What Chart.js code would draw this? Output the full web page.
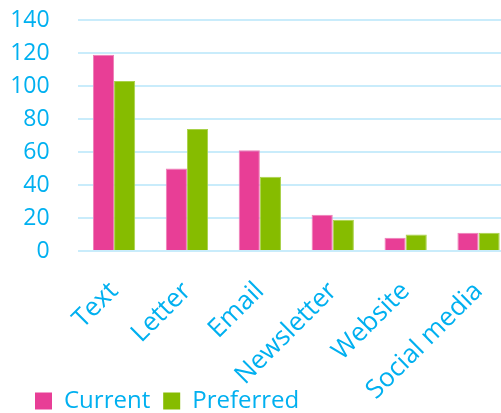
<!DOCTYPE html>
<html>
<head>
<meta charset="utf-8">
<script src="https://cdn.jsdelivr.net/npm/chart.js@4"></script>
<style>
  html, body { margin: 0; padding: 0; overflow: hidden; background: #fff; }
  #wrap { width: 515px; height: 413px; position: relative; }
</style>
</head>
<body>
<div id="wrap"><canvas id="mycanvas"></canvas></div>
<script>
var channels = ['Text', 'Letter', 'Email', 'Newsletter', 'Website', 'Social media'];
var current = [119, 50, 61, 22, 8, 11];
var preferred = [103, 74, 45, 19, 10, 11];
var yTicks = [0, 20, 40, 60, 80, 100, 120, 140];

var blue = '#00b0f0';
var fontName = "'Open Sans', sans-serif";

// let the slanted labels run down beside the legend, and push the legend right
var layoutFix = {
  id: 'layoutFix',
  afterLayout: function(chart) {
    chart.scales.x.bottom = chart.height;
    chart.legend.left = 22;
    chart.legend.top += 10;
  }
};

var chartdata = {
  labels: channels,
  datasets: [
    {
      label: 'Current',
      backgroundColor: '#e83e96',
      borderColor: '#ee7fb8',
      borderWidth: 1,
      data: current
    },
    {
      label: 'Preferred',
      backgroundColor: '#86bc00',
      borderColor: '#a9d24a',
      borderWidth: 1,
      data: preferred
    }
  ]
};

var ctx = document.getElementById('mycanvas');

var barGraph = new Chart(ctx, {
  type: 'bar',
  data: chartdata,
  plugins: [layoutFix],
  options: {
    responsive: true,
    maintainAspectRatio: false,
    animation: false,
    layout: { padding: { top: 20, left: 0, right: 0, bottom: 0 } },
    categoryPercentage: 0.58,
    barPercentage: 1,
    plugins: {
      tooltip: { enabled: false },
      legend: {
        position: 'bottom',
        align: 'start',
        labels: {
          color: blue,
          font: { family: fontName, size: 24 },
          boxWidth: 17,
          boxHeight: 17,
          padding: 13,
          generateLabels: function(chart) {
            var items = Chart.defaults.plugins.legend.labels.generateLabels(chart);
            items.forEach(function(it) { it.lineWidth = 0; });
            return items;
          }
        }
      }
    },
    scales: {
      x: {
        grid: { display: false },
        border: { display: false },
        ticks: {
          color: blue,
          font: { family: fontName, size: 26 },
          minRotation: 45,
          maxRotation: 45,
          autoSkip: false,
          padding: 17
        },
        afterFit: function(scale) {
          scale.height = 115;
          scale.paddingLeft = 0;
          scale.paddingRight = 0;
        }
      },
      y: {
        min: 0,
        max: 140,
        border: { display: false },
        grid: { color: '#c9ecfb', lineWidth: 2, drawTicks: false },
        afterBuildTicks: function(scale) {
          scale.ticks = yTicks.map(function(v) { return { value: v }; });
        },
        afterFit: function(scale) {
          scale.width = 77.6;
          scale.paddingTop = 14;
          scale.paddingBottom = 14;
        },
        ticks: {
          color: blue,
          font: { family: fontName, size: 23 },
          autoSkip: false,
          padding: 28
        }
      }
    }
  }
});
</script>
</body>
</html>
